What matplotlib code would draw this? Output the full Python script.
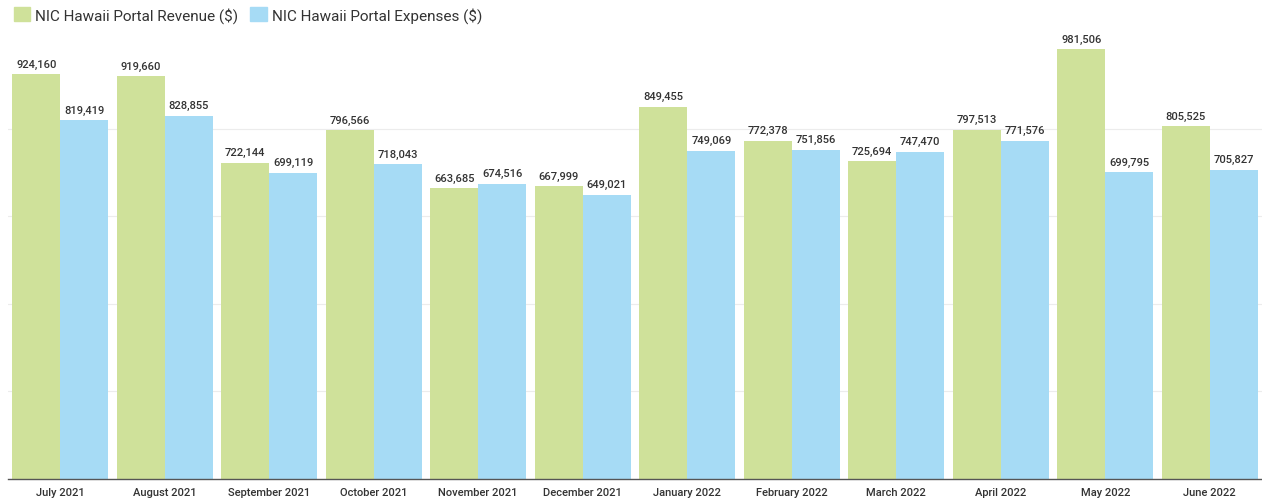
import numpy as np
import matplotlib.pyplot as plt
from matplotlib.patches import Patch

months = ['July 2021', 'August 2021', 'September 2021', 'October 2021',
          'November 2021', 'December 2021', 'January 2022', 'February 2022',
          'March 2022', 'April 2022', 'May 2022', 'June 2022']
revenue = [924160, 919660, 722144, 796566, 663685, 667999,
           849455, 772378, 725694, 797513, 981506, 805525]
expenses = [819419, 828855, 699119, 718043, 674516, 649021,
            749069, 751856, 747470, 771576, 699795, 705827]

green = '#cfe19a'
blue = '#a6dbf5'

plt.rcParams['font.family'] = ['Roboto', 'DejaVu Sans']

fig = plt.figure(figsize=(12.62, 5.02), dpi=100)
ax = fig.add_axes([8 / 1262, 22 / 502, 1254 / 1262, 438 / 502])

x = np.arange(len(months))
w = 0.46
ax.bar(x - w / 2, revenue, w, color=green, zorder=2)
ax.bar(x + w / 2, expenses, w, color=blue, zorder=2)

for xi, r, e in zip(x, revenue, expenses):
    ax.annotate(f'{r:,}', (xi - w / 2, r), xytext=(0, 4), textcoords='offset points',
                ha='center', va='bottom', fontsize=8, color='#333333', fontweight='medium')
    ax.annotate(f'{e:,}', (xi + w / 2, e), xytext=(0, 4), textcoords='offset points',
                ha='center', va='bottom', fontsize=8, color='#333333', fontweight='medium')

ax.set_xlim(-0.5, len(months) - 0.5)
ax.set_ylim(0, 1000000)
ax.set_yticks([200000, 400000, 600000, 800000])
ax.yaxis.grid(True, color='#ececec', linewidth=0.8, zorder=0)
ax.tick_params(axis='y', left=False, labelleft=False)
ax.set_xticks(x)
ax.set_xticklabels(months, fontsize=8, color='#333333', fontweight='medium')
ax.tick_params(axis='x', length=0, pad=6)
for side in ['top', 'right', 'left']:
    ax.spines[side].set_visible(False)
ax.spines['bottom'].set_color('#555555')
ax.spines['bottom'].set_linewidth(1.0)

handles = [Patch(color=green, label='NIC Hawaii Portal Revenue ($)'),
           Patch(color=blue, label='NIC Hawaii Portal Expenses ($)')]
fig.legend(handles=handles, loc='upper left', bbox_to_anchor=(0.0, 1.012), ncol=2,
           frameon=False, fontsize=11, handlelength=1.05, handleheight=1.05,
           handletextpad=0.35, columnspacing=0.8, labelcolor='#333333')

fig.savefig('out.png', dpi=100)
